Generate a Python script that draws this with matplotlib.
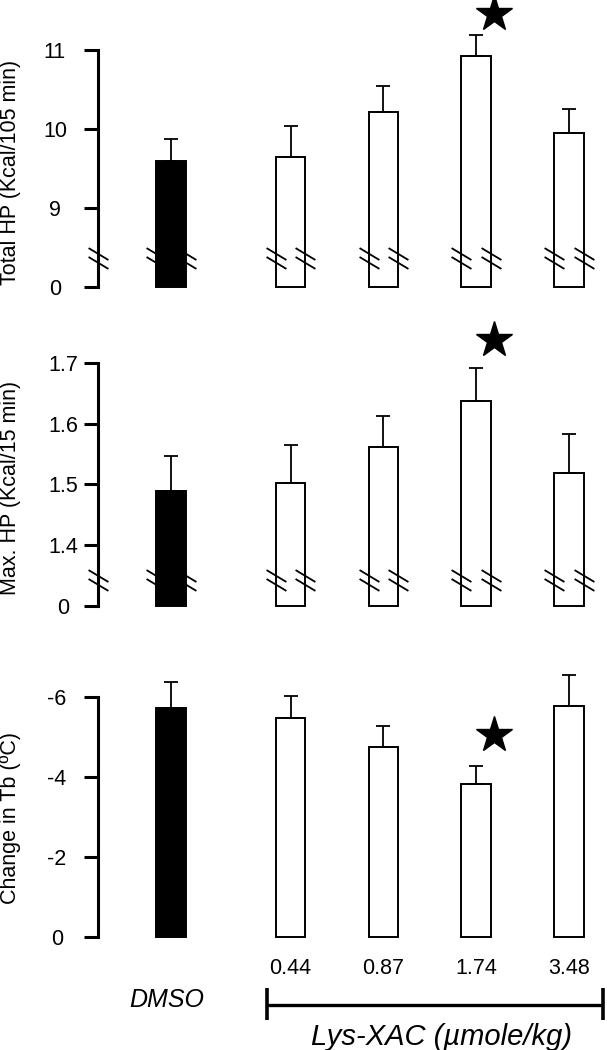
import numpy as np
from matplotlib import pyplot as plt
from matplotlib.path import Path
from matplotlib import transforms

plt.rcParams['font.family'] = ['Liberation Sans', 'DejaVu Sans']

groups = ['DMSO', '0.44', '0.87', '1.74', '3.48']
dose_labels = ['0.44', '0.87', '1.74', '3.48']

# total heat production (Kcal/105 min), mean and SEM
total_hp = [9.60, 9.65, 10.22, 10.92, 9.95]
total_hp_sem = [0.27, 0.39, 0.32, 0.27, 0.30]
# max heat production (Kcal/15 min)
max_hp = [1.489, 1.502, 1.562, 1.637, 1.519]
max_hp_sem = [0.058, 0.063, 0.051, 0.055, 0.064]
# change in body temperature (C)
delta_tb = [-5.73, -5.48, -4.75, -3.83, -5.78]
delta_tb_sem = [0.65, 0.55, 0.53, 0.45, 0.77]

significant = [False, False, False, True, False]

total_ticks = [8, 9, 10, 11]
total_ticklabels = ['0', '9', '10', '11']
max_ticks = [1.3, 1.4, 1.5, 1.6, 1.7]
max_ticklabels = ['0', '1.4', '1.5', '1.6', '1.7']
tb_ticks = [0, -2, -4, -6]
tb_ticklabels = ['0', '-2', '-4', '-6']

FS = 15.5
xpos = np.array([0, 1.29, 2.29, 3.29, 4.29])
width = 0.32
colors = ['black', 'white', 'white', 'white', 'white']

# double-slash break symbol
brk = Path([(-1, 1.05), (1, -0.15), (-1, 0.15), (1, -1.05)],
           [Path.MOVETO, Path.LINETO, Path.MOVETO, Path.LINETO])

fig = plt.figure(figsize=(6.07, 10.5), dpi=100)


def panel(rect, means, sem, base, ticks, ticklabels, ylim, ylabel, labely,
          pad, star_dy, brk_y=None, inverted=False):
    ax = fig.add_axes(rect)
    means = np.array(means)
    sem = np.array(sem)
    ax.bar(xpos, means - base, bottom=base, width=width, color=colors,
           edgecolor='black', linewidth=1.4, zorder=2)
    zeros = np.zeros_like(sem)
    yerr = [sem, zeros] if inverted else [zeros, sem]
    ax.errorbar(xpos, means, yerr=yerr, fmt='none', ecolor='black',
                elinewidth=1.3, capsize=5.3, capthick=1.3, zorder=3,
                clip_on=False)
    ax.set_xlim(-0.787, 4.70)
    ax.set_ylim(*ylim)
    ax.set_yticks(ticks, labels=ticklabels)
    for lbl in ax.get_yticklabels():
        lbl.set_horizontalalignment('center')
    ax.tick_params(axis='y', direction='out', length=10, width=2.2,
                   pad=pad, labelsize=FS)
    ax.set_xticks([])
    for s in ['top', 'right', 'bottom']:
        ax.spines[s].set_visible(False)
    ax.spines['left'].set_linewidth(2.2)
    ax.spines['left'].set_bounds(min(ticks), max(ticks))
    ax.set_ylabel(ylabel, fontsize=FS, va='center')
    ax.yaxis.set_label_coords(-0.172, labely)

    if brk_y is not None:
        bx = np.concatenate([[ax.get_xlim()[0]], xpos - width / 2, xpos + width / 2])
        ax.plot(bx, [brk_y] * len(bx), linestyle='none', marker=brk, ms=15,
                mew=1.3, color='black', zorder=4, clip_on=False)

    # significance stars
    star_tr = transforms.offset_copy(ax.transData, fig=fig, x=18, y=star_dy, units='dots')
    for i, sig in enumerate(significant):
        if sig:
            top = means[i] - sem[i] if inverted else means[i] + sem[i]
            ax.plot(xpos[i], top, marker='*', ms=27, color='black',
                    transform=star_tr, clip_on=False)
    return ax


ax1 = panel([0.1614, 0.7219, 0.8386, 0.2733], total_hp, total_hp_sem, 8,
            total_ticks, total_ticklabels, (7.937, 11.57),
            'Total HP (Kcal/105 min)', 0.415, 21, 21, brk_y=8.37)
ax2 = panel([0.1614, 0.4190, 0.8386, 0.2714], max_hp, max_hp_sem, 1.3,
            max_ticks, max_ticklabels, (1.2929, 1.7626),
            'Max. HP (Kcal/15 min)', 0.43, 15, 28, brk_y=1.342)
ax3 = panel([0.1614, 0.1000, 0.8386, 0.2762], delta_tb, delta_tb_sem, 0,
            tb_ticks, tb_ticklabels, (0.2, -7.05),
            'Change in Tb (\u00baC)', 0.438, 19.5, 31, inverted=True)

# group labels under the bottom panel
tr = transforms.blended_transform_factory(ax3.transData, fig.transFigure)
for x, lab in zip(xpos[1:], dose_labels):
    ax3.text(x, 0.078, lab, transform=tr, ha='center', va='center', fontsize=FS)
ax3.text(xpos[0] - 0.05, 0.0476, 'DMSO', transform=tr, ha='center', va='center',
         fontsize=18, style='italic')
x0, x1 = xpos[1] - 0.25, 4.66
ax3.plot([x0, x1], [0.0429, 0.0429], transform=tr, color='black', lw=2.4,
         clip_on=False, solid_capstyle='butt')
for xe in (x0, x1):
    ax3.plot([xe, xe], [0.0590, 0.0286], transform=tr, color='black', lw=2.6,
             clip_on=False, solid_capstyle='butt')
ax3.text(2.92, 0.0125, 'Lys-XAC (\u00b5mole/kg)', transform=tr, ha='center',
         va='center', fontsize=21, style='italic')

plt.savefig('out.png', dpi=100)
